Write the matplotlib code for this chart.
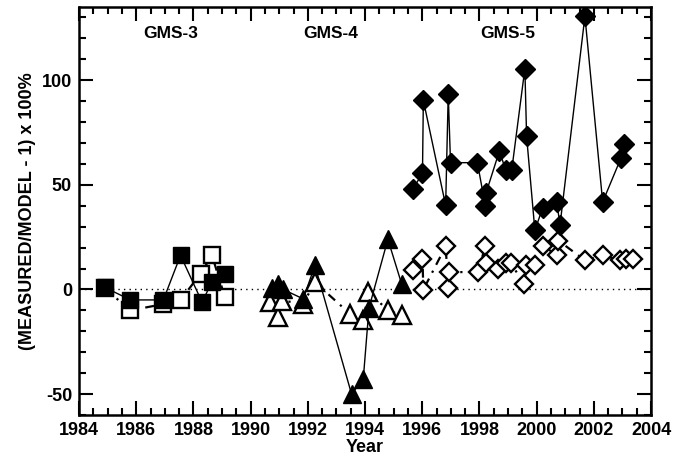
import matplotlib
matplotlib.use('Agg')
import matplotlib.pyplot as plt
from matplotlib.ticker import MultipleLocator

plt.rcParams['font.family'] = ['Liberation Sans', 'DejaVu Sans']
plt.rcParams['font.weight'] = 'bold'
plt.rcParams['axes.unicode_minus'] = False

# GMS-3 (squares)
gms3_filled_x = [1984.9, 1985.8, 1986.95, 1987.55, 1988.3, 1988.65, 1989.1]
gms3_filled_y = [1.0, -5.0, -5.0, 16.3, -6.0, 3.5, 7.5]
gms3_open_x = [1984.9, 1985.8, 1986.95, 1987.55, 1988.25, 1988.65, 1989.1]
gms3_open_y = [0.5, -10.0, -7.0, -5.0, 7.5, 16.3, -3.7]

# GMS-4 (triangles)
gms4_filled_x = [1990.76, 1990.97, 1991.14, 1991.84, 1992.25, 1993.53, 1993.94, 1994.14, 1994.8, 1995.28]
gms4_filled_y = [0.8, 2.7, 0.0, -4.5, 11.5, -50.0, -42.7, -8.8, 24.0, 2.7]
gms4_open_x = [1990.68, 1990.97, 1991.09, 1991.84, 1992.25, 1993.47, 1993.94, 1994.12, 1994.81, 1995.28]
gms4_open_y = [-6.0, -13.0, -5.3, -6.8, 3.5, -11.6, -14.8, -1.3, -10.0, -12.4]

# GMS-5 (diamonds)
gms5_filled_x = [1995.69, 1996.01, 1996.04, 1996.82, 1996.91, 1996.99, 1997.93, 1998.21, 1998.23,
                 1998.70, 1998.92, 1999.13, 1999.59, 1999.65, 1999.94, 2000.21, 2000.70, 2000.82,
                 2001.69, 2002.31, 2002.95, 2003.07]
gms5_filled_y = [48.2, 55.7, 90.4, 40.2, 93.3, 60.6, 60.6, 39.7, 46.0,
                 66.2, 57.0, 57.0, 105.6, 73.2, 28.2, 39.0, 41.8, 31.0,
                 130.6, 41.8, 62.8, 69.7]
gms5_open_x = [1995.69, 1996.01, 1996.04, 1996.82, 1996.91, 1996.95, 1997.94, 1998.21, 1998.23,
               1998.66, 1998.92, 1999.10, 1999.57, 1999.63, 1999.94, 2000.23, 2000.70, 2000.76,
               2001.69, 2002.31, 2002.92, 2003.13, 2003.38]
gms5_open_y = [9.4, 14.7, -0.1, 20.6, 0.8, 8.3, 8.3, 20.6, 12.6,
               9.9, 12.6, 12.6, 2.4, 11.5, 11.5, 21.0, 16.3, 23.4,
               13.9, 16.3, 13.9, 14.7, 14.7]

labels = ['GMS-3', 'GMS-4', 'GMS-5']
label_x = [1987.2, 1992.8, 1999.0]
label_y = 122.5

dashdot = (0, (4, 3, 1, 3))

fig = plt.figure(figsize=(6.86, 4.61), dpi=100)
ax = fig.add_axes([79 / 686, 1 - 415 / 461, (651 - 79) / 686, (415 - 7) / 461])

ax.axhline(0, color='black', linestyle=(0, (1, 3)), linewidth=1.0, zorder=1)

series = [
    (gms3_open_x, gms3_open_y, 's', 11.5, False),
    (gms3_filled_x, gms3_filled_y, 's', 12, True),
    (gms4_open_x, gms4_open_y, '^', 12.5, False),
    (gms4_filled_x, gms4_filled_y, '^', 12.5, True),
    (gms5_open_x, gms5_open_y, 'D', 9.5, False),
    (gms5_filled_x, gms5_filled_y, 'D', 10, True),
]
for xs, ys, mk, ms, filled in series:
    if filled:
        ax.plot(xs, ys, color='black', linewidth=1.0, marker=mk, markersize=ms,
                markerfacecolor='black', markeredgecolor='black', zorder=3)
    else:
        ax.plot(xs, ys, color='black', linewidth=1.6, linestyle=dashdot, marker=mk,
                markersize=ms, markerfacecolor='white', markeredgecolor='black',
                markeredgewidth=1.7, zorder=2)

for lab, lx in zip(labels, label_x):
    ax.text(lx, label_y, lab, ha='center', va='center', fontsize=12.5, fontweight='bold')

ax.set_xlim(1984, 2004)
ax.set_ylim(-60, 135)
ax.xaxis.set_major_locator(MultipleLocator(2))
ax.xaxis.set_minor_locator(MultipleLocator(0.5))
ax.yaxis.set_major_locator(MultipleLocator(50))
ax.yaxis.set_minor_locator(MultipleLocator(10))
ax.tick_params(which='both', direction='in', top=True, right=True, width=1.5, labelsize=13)
ax.tick_params(which='major', length=10, pad=5)
ax.tick_params(which='minor', length=5)
for sp in ax.spines.values():
    sp.set_linewidth(1.8)

ax.set_xlabel('Year', fontsize=13, fontweight='bold', labelpad=0)
ax.set_ylabel('(MEASURED/MODEL - 1) x 100%', fontsize=13, fontweight='bold', labelpad=4)

fig.savefig('out.png', dpi=100)
